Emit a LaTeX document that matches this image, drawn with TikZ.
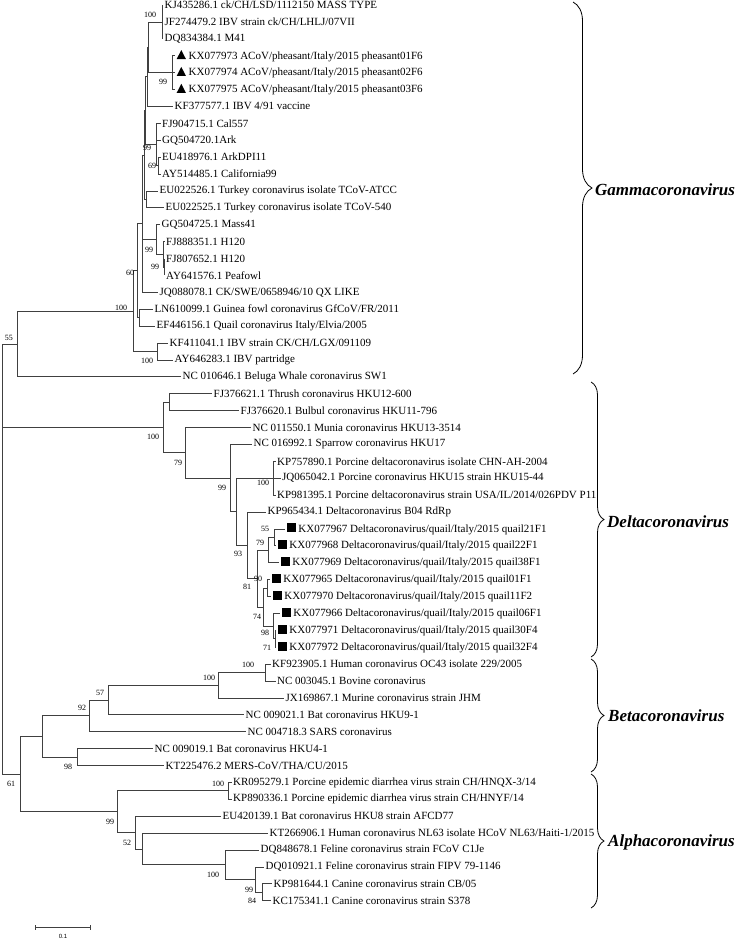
\documentclass[tikz,border=0pt]{standalone}
\usepackage{fontspec}
\setmainfont{Liberation Serif}
\newfontfamily\barfont{Liberation Sans}
\usetikzlibrary{decorations.pathreplacing}
\definecolor{treeline}{RGB}{64,64,64}
\newcommand{\trimark}{\tikz[baseline=0pt]\fill (0pt,0pt) -- (4.6pt,9pt) -- (9.2pt,0pt) -- cycle;\ }
\newcommand{\sqmark}{\rule[-0.3pt]{9pt}{9pt}\ }
\tikzset{
  branch/.style={draw=treeline,line width=0.75pt},
  leaf/.style={anchor=west,inner sep=1.5pt,font=\fontsize{11}{13}\selectfont},
  bs/.style={inner sep=0pt,font=\fontsize{8}{9}\selectfont},
  cladename/.style={anchor=west,inner sep=0pt,font=\fontsize{17}{20}\selectfont\bfseries\itshape},
  cbrace/.style={draw=black,line width=0.8pt,decorate,decoration={brace,amplitude=#1}}
}

\begin{document}
\begin{tikzpicture}[x=1pt,y=-1pt]
  \useasboundingbox (0,0) rectangle (737,940);

  % internal nodes
  \coordinate (root) at (2,559);
  \coordinate (gamma) at (17,343.9);
  \coordinate (gcore) at (133,311.05);
  \coordinate (gsixty) at (137.5,270.65);
  \coordinate (gback) at (142,223.65);
  \coordinate (gback2) at (144,155);
  \coordinate (gback3) at (145,110.6);
  \coordinate (gback4) at (147,76.8);
  \coordinate (massgrp) at (148,47.25);
  \coordinate (mass) at (162,21.9);
  \coordinate (pheas) at (172,72.6);
  \coordinate (ark) at (156,144.4);
  \coordinate (arkdpi) at (158,165.55);
  \coordinate (turkey) at (146.5,199.35);
  \coordinate (mass41) at (156,239.5);
  \coordinate (h120) at (163,254.3);
  \coordinate (h120b) at (164.5,266.95);
  \coordinate (gfquail) at (139.5,317.65);
  \coordinate (partr) at (157,351.45);
  \coordinate (delta) at (163,427.5);
  \coordinate (thrush) at (169,402.15);
  \coordinate (dmunia) at (185,452.8);
  \coordinate (dsparrow) at (230,478.1);
  \coordinate (dpq) at (236,511.75);
  \coordinate (porcine) at (273,478.2);
  \coordinate (dquail) at (247,545.3);
  \coordinate (qall) at (257,578.5);
  \coordinate (qa) at (268,550);
  \coordinate (qaa) at (274,537.35);
  \coordinate (qb) at (263,607.1);
  \coordinate (qba) at (267,588.05);
  \coordinate (qbb) at (273,626.1);
  \coordinate (qbbb) at (275,638.75);
  \coordinate (nsixtyone) at (20,774.1);
  \coordinate (beta) at (42,736.45);
  \coordinate (bemb) at (89,715.85);
  \coordinate (bsub) at (108,700);
  \coordinate (embeco) at (218,685.2);
  \coordinate (oc43) at (265,672.55);
  \coordinate (merbat) at (77,757.05);
  \coordinate (alpha) at (117,811.7);
  \coordinate (pedv) at (228,790.85);
  \coordinate (aone) at (135,832.6);
  \coordinate (atwo) at (142,849);
  \coordinate (feline) at (225,864.8);
  \coordinate (fcanine) at (255,879.6);
  \coordinate (canine) at (262,892.25);

  % leaves
  \node[leaf] (kj435286) at (163,5.0) {KJ435286.1 ck/CH/LSD/1112150 MASS TYPE};
  \node[leaf] (jf274479) at (163,21.9) {JF274479.2 IBV strain ck/CH/LHLJ/07VII};
  \node[leaf] (dq834384) at (163,38.8) {DQ834384.1 M41};
  \node[leaf] (kx077973) at (175,55.7) {\trimark KX077973 ACoV/pheasant/Italy/2015 pheasant01F6};
  \node[leaf] (kx077974) at (175,72.6) {\trimark KX077974 ACoV/pheasant/Italy/2015 pheasant02F6};
  \node[leaf] (kx077975) at (175,89.5) {\trimark KX077975 ACoV/pheasant/Italy/2015 pheasant03F6};
  \node[leaf] (kf377577) at (173,106.4) {KF377577.1 IBV 4/91 vaccine};
  \node[leaf] (fj904715) at (160.5,123.3) {FJ904715.1 Cal557};
  \node[leaf] (gq504720) at (160.5,140.2) {GQ504720.1Ark};
  \node[leaf] (eu418976) at (160.5,157.1) {EU418976.1 ArkDPI11};
  \node[leaf] (ay514485) at (160.5,174.0) {AY514485.1 California99};
  \node[leaf] (eu022526) at (158,190.9) {EU022526.1 Turkey coronavirus isolate TCoV-ATCC};
  \node[leaf] (eu022525) at (164,207.8) {EU022525.1 Turkey coronavirus isolate TCoV-540};
  \node[leaf] (gq504725) at (160,224.7) {GQ504725.1 Mass41};
  \node[leaf] (fj888351) at (164.5,241.6) {FJ888351.1 H120};
  \node[leaf] (fj807652) at (164.5,258.5) {FJ807652.1 H120};
  \node[leaf] (ay641576) at (164.5,275.4) {AY641576.1 Peafowl};
  \node[leaf] (jq088078) at (158,292.3) {JQ088078.1 CK/SWE/0658946/10 QX LIKE};
  \node[leaf] (ln610099) at (153,309.2) {LN610099.1 Guinea fowl coronavirus GfCoV/FR/2011};
  \node[leaf] (ef446156) at (155,326.1) {EF446156.1 Quail coronavirus Italy/Elvia/2005};
  \node[leaf] (kf411041) at (168,343.0) {KF411041.1 IBV strain CK/CH/LGX/091109};
  \node[leaf] (ay646283) at (173,359.9) {AY646283.1 IBV partridge};
  \node[leaf] (nc010646) at (181,376.8) {NC 010646.1 Beluga Whale coronavirus SW1};
  \node[leaf] (fj376621) at (212,393.7) {FJ376621.1 Thrush coronavirus HKU12-600};
  \node[leaf] (fj376620) at (239,410.6) {FJ376620.1 Bulbul coronavirus HKU11-796};
  \node[leaf] (nc011550) at (251,427.5) {NC 011550.1 Munia coronavirus HKU13-3514};
  \node[leaf] (nc016992) at (252,444.4) {NC 016992.1 Sparrow coronavirus HKU17};
  \node[leaf] (kp757890) at (275.5,461.3) {KP757890.1 Porcine deltacoronavirus isolate CHN-AH-2004};
  \node[leaf] (jq065042) at (280.5,478.2) {JQ065042.1 Porcine coronavirus HKU15 strain HKU15-44};
  \node[leaf] (kp981395) at (275.5,495.1) {KP981395.1 Porcine deltacoronavirus strain USA/IL/2014/026PDV P11};
  \node[leaf] (kp965434) at (266,512.0) {KP965434.1 Deltacoronavirus B04 RdRp};
  \node[leaf] (kx077967) at (285,528.9) {\sqmark KX077967 Deltacoronavirus/quail/Italy/2015 quail21F1};
  \node[leaf] (kx077968) at (276,545.8) {\sqmark KX077968 Deltacoronavirus/quail/Italy/2015 quail22F1};
  \node[leaf] (kx077969) at (279,562.7) {\sqmark KX077969 Deltacoronavirus/quail/Italy/2015 quail38F1};
  \node[leaf] (kx077965) at (270,579.6) {\sqmark KX077965 Deltacoronavirus/quail/Italy/2015 quail01F1};
  \node[leaf] (kx077970) at (271,596.5) {\sqmark KX077970 Deltacoronavirus/quail/Italy/2015 quail11F2};
  \node[leaf] (kx077966) at (280,613.4) {\sqmark KX077966 Deltacoronavirus/quail/Italy/2015 quail06F1};
  \node[leaf] (kx077971) at (276,630.3) {\sqmark KX077971 Deltacoronavirus/quail/Italy/2015 quail30F4};
  \node[leaf] (kx077972) at (276,647.2) {\sqmark KX077972 Deltacoronavirus/quail/Italy/2015 quail32F4};
  \node[leaf] (kf923905) at (270.5,664.1) {KF923905.1 Human coronavirus OC43 isolate 229/2005};
  \node[leaf] (nc003045) at (275.5,681.0) {NC 003045.1 Bovine coronavirus};
  \node[leaf] (jx169867) at (284,697.9) {JX169867.1 Murine coronavirus strain JHM};
  \node[leaf] (nc009021) at (244,714.8) {NC 009021.1 Bat coronavirus HKU9-1};
  \node[leaf] (nc004718) at (246,731.7) {NC 004718.3 SARS coronavirus};
  \node[leaf] (nc009019) at (153,748.6) {NC 009019.1 Bat coronavirus HKU4-1};
  \node[leaf] (kt225476) at (164,765.5) {KT225476.2 MERS-CoV/THA/CU/2015};
  \node[leaf] (kr095279) at (231.5,782.4) {KR095279.1 Porcine epidemic diarrhea virus strain CH/HNQX-3/14};
  \node[leaf] (kp890336) at (231.5,799.3) {KP890336.1 Porcine epidemic diarrhea virus strain CH/HNYF/14};
  \node[leaf] (eu420139) at (221,816.2) {EU420139.1 Bat coronavirus HKU8 strain AFCD77};
  \node[leaf] (kt266906) at (268,833.1) {KT266906.1 Human coronavirus NL63 isolate HCoV NL63/Haiti-1/2015};
  \node[leaf] (dq848678) at (259,850.0) {DQ848678.1 Feline coronavirus strain FCoV C1Je};
  \node[leaf] (dq010921) at (264,866.9) {DQ010921.1 Feline coronavirus strain FIPV 79-1146};
  \node[leaf] (kp981644) at (272,883.8) {KP981644.1 Canine coronavirus strain CB/05};
  \node[leaf] (kc175341) at (271,900.7) {KC175341.1 Canine coronavirus strain S378};

  % branches
  \draw[branch] (root) |- (gamma) (root) |- (delta) (root) |- (nsixtyone);
  \draw[branch] (gamma) |- (gcore) (gamma) |- (nc010646.west);
  \draw[branch] (gcore) |- (gsixty) (gcore) |- (partr);
  \draw[branch] (gsixty) |- (gback) (gsixty) |- (gfquail);
  \draw[branch] (gback) |- (gback2) (gback) |- (mass41) (gback) |- (jq088078.west);
  \draw[branch] (gback2) |- (gback3) (gback2) |- (turkey);
  \draw[branch] (gback3) |- (gback4) (gback3) |- (ark);
  \draw[branch] (gback4) |- (massgrp) (gback4) |- (kf377577.west);
  \draw[branch] (massgrp) |- (mass) (massgrp) |- (pheas);
  \draw[branch] (mass) |- (kj435286.west) (mass) |- (jf274479.west) (mass) |- (dq834384.west);
  \draw[branch] (pheas) |- (kx077973.west) (pheas) |- (kx077974.west) (pheas) |- (kx077975.west);
  \draw[branch] (ark) |- (fj904715.west) (ark) |- (gq504720.west) (ark) |- (arkdpi);
  \draw[branch] (arkdpi) |- (eu418976.west) (arkdpi) |- (ay514485.west);
  \draw[branch] (turkey) |- (eu022526.west) (turkey) |- (eu022525.west);
  \draw[branch] (mass41) |- (gq504725.west) (mass41) |- (h120);
  \draw[branch] (h120) |- (fj888351.west) (h120) |- (h120b);
  \draw[branch] (h120b) |- (fj807652.west) (h120b) |- (ay641576.west);
  \draw[branch] (gfquail) |- (ln610099.west) (gfquail) |- (ef446156.west);
  \draw[branch] (partr) |- (kf411041.west) (partr) |- (ay646283.west);

  \draw[branch] (delta) |- (thrush) (delta) |- (dmunia);
  \draw[branch] (thrush) |- (fj376621.west) (thrush) |- (fj376620.west);
  \draw[branch] (dmunia) |- (nc011550.west) (dmunia) |- (dsparrow);
  \draw[branch] (dsparrow) |- (nc016992.west) (dsparrow) |- (dpq);
  \draw[branch] (dpq) |- (porcine) (dpq) |- (dquail);
  \draw[branch] (porcine) |- (kp757890.west) (porcine) |- (jq065042.west) (porcine) |- (kp981395.west);
  \draw[branch] (dquail) |- (kp965434.west) (dquail) |- (qall);
  \draw[branch] (qall) |- (qa) (qall) |- (qb);
  \draw[branch] (qa) |- (qaa) (qa) |- (kx077969.west);
  \draw[branch] (qaa) |- (kx077967.west) (qaa) |- (kx077968.west);
  \draw[branch] (qb) |- (qba) (qb) |- (qbb);
  \draw[branch] (qba) |- (kx077965.west) (qba) |- (kx077970.west);
  \draw[branch] (qbb) |- (kx077966.west) (qbb) |- (qbbb);
  \draw[branch] (qbbb) |- (kx077971.west) (qbbb) |- (kx077972.west);

  \draw[branch] (nsixtyone) |- (beta) (nsixtyone) |- (alpha);
  \draw[branch] (beta) |- (bemb) (beta) |- (merbat);
  \draw[branch] (bemb) |- (bsub) (bemb) |- (nc004718.west);
  \draw[branch] (bsub) |- (embeco) (bsub) |- (nc009021.west);
  \draw[branch] (embeco) |- (oc43) (embeco) |- (jx169867.west);
  \draw[branch] (oc43) |- (kf923905.west) (oc43) |- (nc003045.west);
  \draw[branch] (merbat) |- (nc009019.west) (merbat) |- (kt225476.west);
  \draw[branch] (alpha) |- (pedv) (alpha) |- (aone);
  \draw[branch] (pedv) |- (kr095279.west) (pedv) |- (kp890336.west);
  \draw[branch] (aone) |- (eu420139.west) (aone) |- (atwo);
  \draw[branch] (atwo) |- (kt266906.west) (atwo) |- (feline);
  \draw[branch] (feline) |- (dq848678.west) (feline) |- (fcanine);
  \draw[branch] (fcanine) |- (dq010921.west) (fcanine) |- (canine);
  \draw[branch] (canine) |- (kp981644.west) (canine) |- (kc175341.west);

  % bootstrap values
  \node[bs] (bs-mass) at (150,15) {100};
  \node[bs] (bs-pheas) at (163,82) {99};
  \node[bs] (bs-ark) at (147,148) {99};
  \node[bs] (bs-arkdpi) at (152,166) {69};
  \node[bs] (bs-mass41) at (149,250) {99};
  \node[bs] (bs-h120b) at (155,267) {99};
  \node[bs] (bs-gsixty) at (130,273) {60};
  \node[bs] (bs-gcore) at (121,308) {100};
  \node[bs] (bs-gamma) at (9,338) {55};
  \node[bs] (bs-partr) at (147,361) {100};
  \node[bs] (bs-delta) at (153,437) {100};
  \node[bs] (bs-dmunia) at (178,463) {79};
  \node[bs] (bs-dsparrow) at (222,488) {99};
  \node[bs] (bs-porcine) at (263,483) {100};
  \node[bs] (bs-dquail) at (238,554) {93};
  \node[bs] (bs-qaa) at (265,529) {55};
  \node[bs] (bs-qa) at (260,543) {79};
  \node[bs] (bs-qba) at (258,579) {90};
  \node[bs] (bs-qall) at (247,587) {81};
  \node[bs] (bs-qb) at (257,617) {74};
  \node[bs] (bs-qbb) at (265,633) {98};
  \node[bs] (bs-qbbb) at (267,648) {71};
  \node[bs] (bs-oc43) at (248,665) {100};
  \node[bs] (bs-embeco) at (209,678) {100};
  \node[bs] (bs-bsub) at (100,693) {57};
  \node[bs] (bs-bemb) at (82,708) {92};
  \node[bs] (bs-merbat) at (68,767) {98};
  \node[bs] (bs-nsixtyone) at (11,784) {61};
  \node[bs] (bs-pedv) at (218,784) {100};
  \node[bs] (bs-alpha) at (110,822) {99};
  \node[bs] (bs-aone) at (127,843) {52};
  \node[bs] (bs-feline) at (213,875) {100};
  \node[bs] (bs-fcanine) at (249,890) {99};
  \node[bs] (bs-canine) at (252,901) {84};

  % genus braces
  \coordinate (gtop) at (573,2);
  \coordinate (gbot) at (573,374);
  \coordinate (dtop) at (591,382);
  \coordinate (dbot) at (591,657);
  \coordinate (btop) at (591,659);
  \coordinate (bbot) at (591,772);
  \coordinate (atop) at (591,774);
  \coordinate (abot) at (591,908);
  \draw[cbrace=19pt] (gtop) -- (gbot);
  \draw[cbrace=13pt] (dtop) -- (dbot);
  \draw[cbrace=13pt] (btop) -- (bbot);
  \draw[cbrace=13pt] (atop) -- (abot);
  \node[cladename] (gname) at (595,190) {Gammacoronavirus};
  \node[cladename] (dname) at (607,522) {Deltacoronavirus};
  \node[cladename] (bname) at (608,716) {Betacoronavirus};
  \node[cladename] (aname) at (608,842) {Alphacoronavirus};

  % scale bar
  \coordinate (barL) at (35,927);
  \coordinate (barR) at (90,927);
  \draw[branch,line width=0.6pt] (barL) -- (barR);
  \draw[branch,line width=0.6pt] ([yshift=-2.5pt]barL) -- ([yshift=2.5pt]barL);
  \draw[branch,line width=0.6pt] ([yshift=-2.5pt]barR) -- ([yshift=2.5pt]barR);
  \node[inner sep=0pt,font=\barfont\fontsize{6}{7}\selectfont] (barlabel) at (63,936) {0.1};
\end{tikzpicture}
\end{document}
